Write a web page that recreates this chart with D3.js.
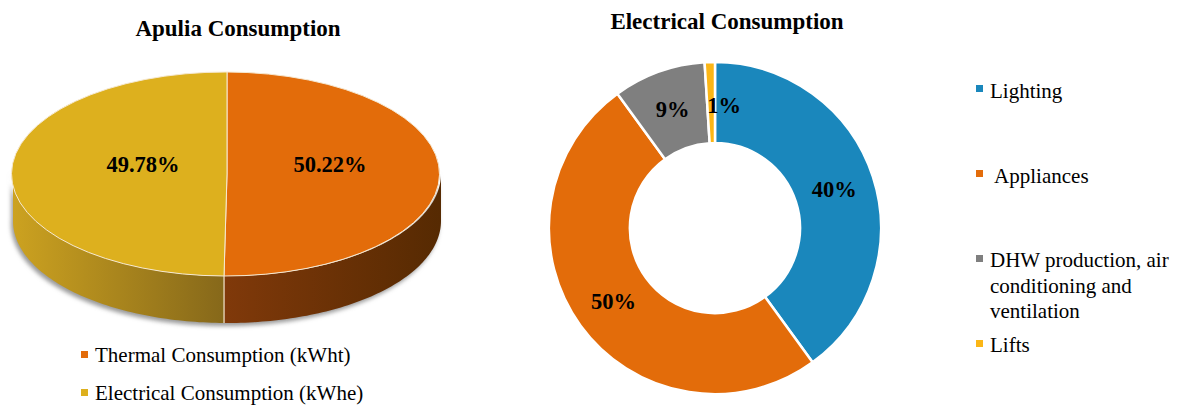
<!DOCTYPE html>
<html>
<head>
<meta charset="utf-8">
<script src="https://cdn.jsdelivr.net/npm/d3@7"></script>
<style>
  html, body { margin: 0; padding: 0; background: #fff; }
  svg { display: block; }
  text { font-family: "Liberation Serif", "Times New Roman", serif; fill: #000; }
</style>
</head>
<body>
<svg id="chart" width="1180" height="405"></svg>
<script>
// ---------- data ----------
const apuliaCategories = ["Thermal Consumption (kWht)", "Electrical Consumption (kWhe)"];
const apuliaValues = [50.22, 49.78];
const apuliaLabels = ["50.22%", "49.78%"];

const elecCategories = ["Lighting", "Appliances", "DHW production, air conditioning and ventilation", "Lifts"];
const elecValues = [40, 50, 9, 1];
const elecLabels = ["40%", "50%", "9%", "1%"];

// ---------- styles ----------
const apuliaTop = ["#E36C0A", "#DDB01E"];
const apuliaSideGrad = [["#80390A", "#562A02"], ["#CCA220", "#86681A"]];
const elecColors = ["#1A87BC", "#E36C0A", "#7F7F7F", "#FBB616"];

const svg = d3.select("#chart");
const defs = svg.append("defs");

// ---------- left: 3D pie ----------
const L = { cx: 227, cy: 174, rx: 214, ry: 102, depth: 47 };
const pie = d3.pie().sort(null).value(d => d);
const aArcs = pie(apuliaValues);
const pt = (a, dy = 0) => [L.cx + L.rx * Math.sin(a), L.cy - L.ry * Math.cos(a) + dy];

const left = svg.append("g");

// soft shadow
const blur = defs.append("filter").attr("id", "shadow").attr("x", "-10%").attr("y", "-10%").attr("width", "120%").attr("height", "140%");
blur.append("feGaussianBlur").attr("stdDeviation", 2.2);
function sidePath(a0, a1) {
  const n = 80;
  const top = d3.range(n + 1).map(i => pt(a0 + (a1 - a0) * i / n));
  const bot = d3.range(n + 1).map(i => pt(a1 - (a1 - a0) * i / n, L.depth));
  return d3.line()(top.concat(bot)) + "Z";
}
left.append("path")
  .attr("d", sidePath(Math.PI / 2 - 0.05, 3 * Math.PI / 2 + 0.05))
  .attr("transform", "translate(-2,3)")
  .attr("fill", "#9a9a9a")
  .attr("filter", "url(#shadow)");

// side walls
aArcs.forEach((d, i) => {
  const a0 = Math.max(d.startAngle, Math.PI / 2);
  const a1 = Math.min(d.endAngle, 3 * Math.PI / 2);
  if (a1 <= a0) return;
  const gid = "side" + i;
  const g = defs.append("linearGradient").attr("id", gid)
    .attr("x1", "0%").attr("x2", "100%").attr("y1", "0%").attr("y2", "0%");
  // gradient runs left -> right
  const cols = apuliaSideGrad[i];
  g.append("stop").attr("offset", "0%").attr("stop-color", cols[0]);
  g.append("stop").attr("offset", "100%").attr("stop-color", cols[1]);
  left.append("path").attr("d", sidePath(a0, a1)).attr("fill", `url(#${gid})`);
});
// side separators
aArcs.forEach(d => {
  const a = d.endAngle;
  if (a > Math.PI / 2 && a < 3 * Math.PI / 2) {
    const p0 = pt(a), p1 = pt(a, L.depth);
    left.append("line").attr("x1", p0[0]).attr("y1", p0[1]).attr("x2", p1[0]).attr("y2", p1[1])
      .attr("stroke", "#f4e6d0").attr("stroke-width", 1.2);
  }
});

// top faces
const unitArc = d3.arc().innerRadius(0).outerRadius(1);
left.selectAll("path.top").data(aArcs).join("path")
  .attr("class", "top")
  .attr("d", unitArc)
  .attr("transform", `translate(${L.cx},${L.cy}) scale(${L.rx},${L.ry})`)
  .attr("fill", (d, i) => apuliaTop[i])
  .attr("stroke", "#f6e9d2")
  .attr("stroke-width", 1)
  .attr("vector-effect", "non-scaling-stroke");

// labels
left.selectAll("text.lbl").data(aArcs).join("text")
  .attr("class", "lbl")
  .attr("x", d => pt((d.startAngle + d.endAngle) / 2)[0] * 0 + L.cx + 9.5 + 93.5 * Math.sin((d.startAngle + d.endAngle) / 2))
  .attr("y", d => L.cy - 2)
  .attr("text-anchor", "middle")
  .attr("font-weight", "bold")
  .attr("font-size", 22.5)
  .text((d, i) => apuliaLabels[i]);

svg.append("text").attr("x", 238).attr("y", 36).attr("text-anchor", "middle")
  .attr("font-weight", "bold").attr("font-size", 23).text("Apulia Consumption");

// left legend
const legL = svg.append("g");
apuliaCategories.forEach((c, i) => {
  const y = 362 + i * 38;
  legL.append("rect").attr("x", 81).attr("y", y - 11).attr("width", 7).attr("height", 7).attr("fill", apuliaTop[i]);
  legL.append("text").attr("x", 95).attr("y", y).attr("font-size", 21).text(c);
});

// ---------- right: donut ----------
const D = { cx: 715, cy: 228, r0: 85, r1: 166 };
const eArcs = pie(elecValues);
const dArc = d3.arc().innerRadius(D.r0).outerRadius(D.r1);
const dg = svg.append("g").attr("transform", `translate(${D.cx},${D.cy})`);
dg.selectAll("path").data(eArcs).join("path")
  .attr("d", dArc)
  .attr("fill", (d, i) => elecColors[i])
  .attr("stroke", "#fff")
  .attr("stroke-width", 2.5)
  .attr("stroke-linejoin", "round");

const labelArc = d3.arc().innerRadius((D.r0 + D.r1) / 2).outerRadius((D.r0 + D.r1) / 2);
const labelNudge = [[0, 0], [0, 0], [0, 0], [13, 3]];
dg.selectAll("text").data(eArcs).join("text")
  .attr("x", (d, i) => labelArc.centroid(d)[0] + labelNudge[i][0])
  .attr("y", (d, i) => labelArc.centroid(d)[1] + labelNudge[i][1])
  .attr("dy", "0.33em")
  .attr("text-anchor", "middle")
  .attr("font-weight", "bold")
  .attr("font-size", 22.5)
  .text((d, i) => elecLabels[i]);

svg.append("text").attr("x", 727).attr("y", 29).attr("text-anchor", "middle")
  .attr("font-weight", "bold").attr("font-size", 23).text("Electrical Consumption");

// right legend
const legR = svg.append("g");
const legRows = [
  { sq: 85, lines: [["Lighting", 98]] },
  { sq: 170, lines: [[" Appliances", 183]] },
  { sq: 255, lines: [["DHW production, air", 267], ["conditioning and", 293], ["ventilation", 318]] },
  { sq: 340, lines: [["Lifts", 352]] }
];
elecCategories.forEach((c, i) => {
  legR.append("rect").attr("x", 976).attr("y", legRows[i].sq).attr("width", 7).attr("height", 7).attr("fill", elecColors[i]);
  legR.append("text").attr("font-size", 21).attr("xml:space", "preserve")
    .selectAll("tspan").data(legRows[i].lines).join("tspan")
    .attr("x", 990).attr("y", l => l[1]).text(l => l[0]);
});
</script>
</body>
</html>
